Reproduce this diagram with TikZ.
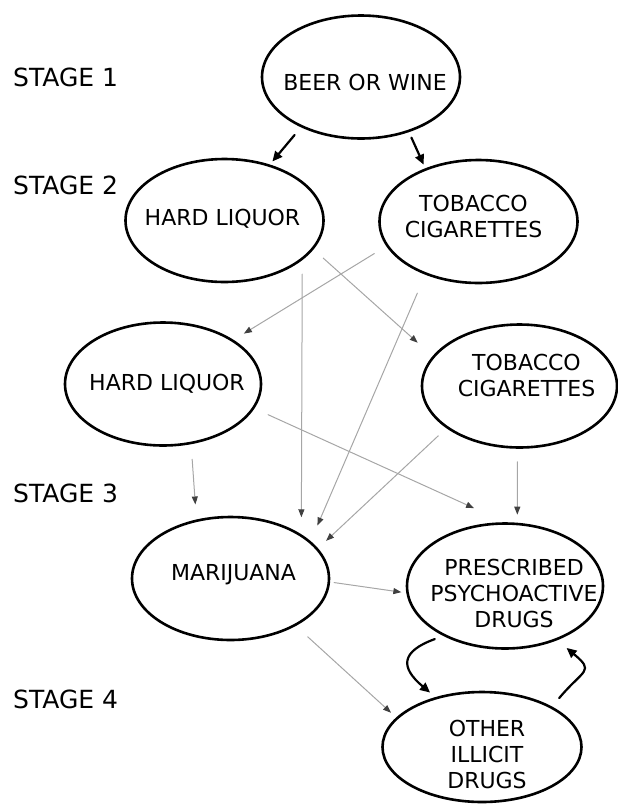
\documentclass[tikz,border=0pt]{standalone}
\usepackage{fontspec}
\setmainfont{DejaVu Sans}
\usetikzlibrary{shapes.geometric,arrows.meta}

\begin{document}
\begin{tikzpicture}[x=1pt, y=-1pt, line cap=round, line join=round,
  blob/.style={draw, ellipse, line width=2.6pt, minimum width=198pt, minimum height=123pt, inner sep=0pt},
  txt/.style={align=center, font=\fontsize{22}{26}\selectfont},
  stage/.style={anchor=west, inner sep=0pt, font=\fontsize{25}{30}\selectfont},
  push/.style={line width=2.2pt, -{Triangle[length=10pt,width=9pt]}},
  link/.style={line width=1pt, draw=black!35, -{Triangle[length=8pt,width=6pt,color=black!75]}}]
  \useasboundingbox (0,0) rectangle (618,804);

  \node[stage] (stage1) at (13,77) {STAGE 1};
  \node[stage] (stage2) at (13,185) {STAGE 2};
  \node[stage] (stage3) at (13,493) {STAGE 3};
  \node[stage] (stage4) at (13,699) {STAGE 4};

  \node[blob, label={[txt, xshift=4pt, yshift=-5pt]center:BEER OR WINE}] (beer) at (361,77) {};
  \node[blob, label={[txt, xshift=-2pt, yshift=2pt]center:HARD LIQUOR}] (liquorA) at (224.5,220.5) {};
  \node[blob, label={[txt, xshift=-5pt, yshift=5pt]center:TOBACCO\\CIGARETTES}] (tobaccoA) at (478.5,221.5) {};
  \node[blob, minimum width=196pt, label={[txt, xshift=4pt]center:HARD LIQUOR}] (liquorB) at (163,384) {};
  \node[blob, minimum width=195pt, label={[txt, xshift=7pt, yshift=11pt]center:TOBACCO\\CIGARETTES}] (tobaccoB) at (519.5,386) {};
  \node[blob, minimum width=197pt, label={[txt, xshift=3pt, yshift=4pt]center:MARIJUANA}] (marijuana) at (230.5,578.5) {};
  \node[blob, minimum width=196pt, minimum height=125pt, label={[txt, xshift=9pt, yshift=-7pt]center:PRESCRIBED\\PSYCHOACTIVE\\DRUGS}] (prescribed) at (505,586) {};
  \node[blob, minimum width=199pt, minimum height=110pt, label={[txt, xshift=5pt, yshift=-7pt]center:OTHER\\ILLICIT\\DRUGS}] (illicit) at (482,747) {};

  \draw[push, shorten <=10pt, shorten >=4pt] (beer.-140) -- (liquorA.51);
  \draw[push, shorten <=6pt, shorten >=4pt] (beer.-49) -- (tobaccoA.135);

  \draw[link, shorten <=14pt, shorten >=12pt] (tobaccoA.-165) -- (liquorB.32);
  \draw[link, shorten <=13pt, shorten >=20pt] (liquorA.-18) -- (tobaccoB.161);
  \draw[link, shorten <=14pt, shorten >=17pt] (liquorA.-27) -- (marijuana.32);
  \draw[link, shorten <=20pt, shorten >=17pt] (tobaccoA.-135) -- (marijuana.25);
  \draw[link, shorten <=15pt, shorten >=15pt] (liquorB.-65) -- (marijuana.120);
  \draw[link, shorten <=15pt, shorten >=34pt] (liquorB.-15) -- (prescribed.90);
  \draw[link, shorten <=11pt, shorten >=11pt] (tobaccoB.-150) -- (marijuana.19);
  \draw[link, shorten <=13pt, shorten >=8pt] (tobaccoB.-92) -- (prescribed.79);
  \draw[link, shorten <=4pt, shorten >=5pt] (marijuana.-2) -- (prescribed.-176);
  \draw[link, shorten <=16pt, shorten >=7pt] (marijuana.-36) -- (illicit.161);

  \draw[push, shorten <=9pt, shorten >=7pt] (prescribed.-141) to[out=-160, in=140, looseness=1.9] (illicit.133);
  \draw[push, shorten <=11pt, shorten >=12pt] (illicit.30) to[out=50, in=-40, looseness=1.9] (prescribed.-46);
\end{tikzpicture}
\end{document}
